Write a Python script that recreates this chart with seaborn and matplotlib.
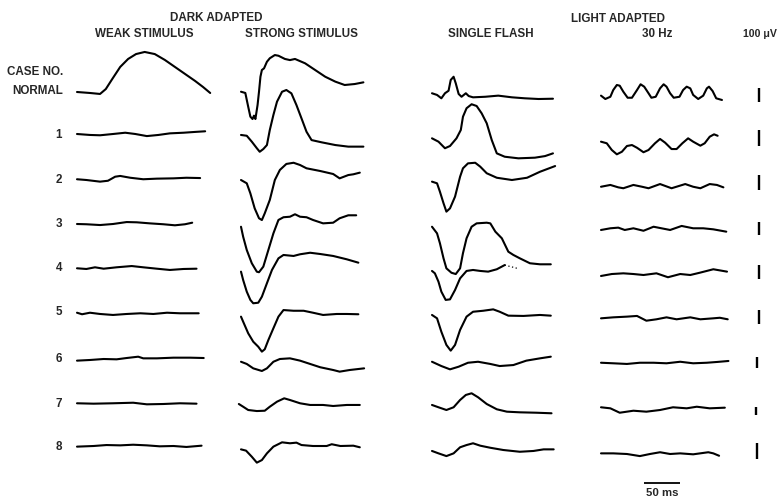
import matplotlib
matplotlib.use("Agg")
import matplotlib.pyplot as plt
import pandas as pd
import seaborn as sns

# ---------------------------------------------------------------------------
# ERG recordings: each trace is a list of (time in ms, amplitude in µV) pairs
# ---------------------------------------------------------------------------
row_labels = ["NORMAL", "1", "2", "3", "4", "5", "6", "7", "8"]

weak_stimulus = [
    [(0, 0), (18, -7), (32, -14), (40, 21), (49, 93), (60, 179), (71, 236), (82, 271),
     (94, 286), (108, 271), (122, 229), (136, 179), (150, 129), (164, 79), (175, 36), (185, -7)],
    [(0, 0), (18, -6), (32, -8), (50, 0), (67, 8), (81, 0), (97, -13), (113, -6),
     (129, 4), (148, 8), (164, 13), (178, 17)],
    [(0, 5), (13, 0), (32, -11), (43, -5), (53, 22), (60, 27), (74, 15), (92, 5),
     (111, 9), (134, 11), (152, 15), (171, 13)],
    [(0, 0), (13, -2), (32, -8), (50, 0), (69, 15), (83, 13), (101, 5), (120, -2),
     (136, -10), (150, -2), (160, 10)],
    [(0, -2), (13, -7), (25, 5), (37, -5), (55, 5), (76, 14), (92, 5), (111, -5),
     (129, -14), (148, -7), (166, -5)],
    [(0, 2), (7, -9), (18, 2), (32, -7), (50, -14), (69, -7), (88, -2), (106, -7),
     (125, 2), (143, -2), (169, -2)],
    [(0, -15), (18, -9), (37, 0), (55, -3), (69, 9), (85, 21), (92, 6), (111, 6),
     (134, 12), (157, 12), (176, 9)],
    [(0, 9), (23, 4), (50, 9), (78, 16), (97, -4), (120, 0), (143, 9), (166, 4)],
    [(0, -4), (23, 0), (41, 6), (60, 4), (78, 8), (97, 4), (115, -2), (134, 0),
     (152, -6), (173, 2)],
]

strong_stimulus = [
    [(0, 2), (6, -7), (10, -105), (13, -176), (16, -193), (18, -169), (20, -193), (23, -93),
     (25, 2), (27, 109), (29, 157), (32, 169), (36, 216), (40, 241), (47, 264), (52, 259),
     (61, 236), (68, 228), (75, 236), (89, 205), (103, 157), (117, 109), (131, 74),
     (144, 50), (158, 57), (170, 69)],
    [(0, -6), (8, -11), (15, -48), (22, -89), (26, -111), (31, -94), (36, -69), (40, 25),
     (45, 119), (50, 202), (57, 264), (63, 275), (70, 254), (77, 181), (84, 98), (91, 14),
     (98, -38), (112, -52), (131, -69), (149, -79), (170, -79)],
    [(0, 0), (8, -22), (13, -89), (19, -189), (25, -255), (29, -267), (33, -222), (40, -133),
     (47, 0), (54, 67), (63, 107), (73, 115), (82, 100), (91, 78), (110, 60), (128, 40),
     (137, 11), (149, 33), (156, 38), (165, 49)],
    [(0, -21), (3, -98), (8, -200), (15, -302), (22, -367), (25, -371), (31, -328),
     (38, -200), (45, -72), (52, 31), (59, 52), (68, 56), (75, 75), (82, 56), (91, 52),
     (100, 31), (114, 5), (128, 10), (137, 44), (149, 67), (160, 67)],
    [(0, -26), (3, -86), (8, -169), (13, -228), (17, -252), (24, -248), (29, -205),
     (36, -109), (43, -14), (52, 69), (59, 93), (73, 86), (82, 98), (96, 109), (110, 100),
     (128, 86), (147, 62), (163, 38)],
    [(0, -26), (3, -62), (10, -145), (17, -205), (24, -241), (29, -276), (33, -259),
     (38, -193), (45, -109), (52, -26), (59, 21), (73, 16), (87, 16), (100, 2), (114, -14),
     (133, -7), (147, -7), (163, -9)],
    [(0, -25), (8, -45), (17, -85), (29, -109), (36, -85), (45, -25), (54, 0), (68, 6),
     (82, -15), (96, -45), (110, -75), (128, -100), (137, -115), (151, -100), (171, -85)],
    [(-3, 0), (3, -34), (10, -75), (22, -88), (33, -84), (40, -34), (50, 29), (60, 71),
     (68, 50), (82, 9), (96, -12), (114, -12), (128, -25), (147, -12), (165, -12)],
    [(0, -21), (7, -29), (15, -67), (22, -104), (29, -88), (36, -46), (45, -4), (57, 23),
     (68, 17), (77, 21), (84, 6), (100, 0), (119, 0), (126, 11), (138, 0), (156, 2),
     (165, -8)],
]

single_flash = [
    [(0, -9), (7, -21), (13, -45), (18, -9), (23, 9), (26, 86), (30, 109), (33, 62),
     (37, -14), (41, -34), (47, -9), (51, -29), (57, -38), (74, -34), (92, -26),
     (111, -38), (129, -45), (148, -50), (168, -48)],
    [(0, -27), (9, -48), (18, -89), (25, -75), (34, -27), (40, 25), (43, 108), (48, 161),
     (55, 186), (62, 175), (69, 129), (76, 67), (83, -38), (90, -121), (101, -142),
     (120, -152), (143, -148), (157, -138), (168, -121)],
    [(0, -11), (7, -22), (11, -78), (16, -155), (20, -211), (25, -189), (32, -111),
     (39, 22), (43, 78), (50, 111), (60, 115), (67, 89), (76, 45), (90, 15), (111, 0),
     (132, 15), (150, 55), (171, 93)],
    [(0, -21), (7, -72), (11, -148), (16, -264), (20, -341), (27, -375), (33, -385),
     (39, -341), (43, -225), (48, -110), (55, -21), (62, 5), (76, 10), (81, 5), (88, -59),
     (97, -110), (106, -213), (113, -238), (122, -264), (136, -302), (150, -310),
     (165, -310)],
    [(0, -21), (4, -38), (9, -98), (13, -169), (19, -228), (25, -224), (32, -157),
     (39, -74), (48, -21), (57, -14), (67, -21), (78, -26), (90, -9), (101, 21)],
    [(0, -14), (7, -38), (13, -134), (20, -228), (26, -269), (32, -228), (39, -121),
     (48, -26), (57, 9), (71, 16), (85, 26), (94, 9), (106, -19), (127, -21), (150, -14),
     (165, -19)],
    [(0, -25), (13, -64), (25, -94), (37, -70), (50, -34), (64, -25), (81, -45), (94, -64),
     (113, -55), (131, -15), (150, 6), (165, 21)],
    [(0, -12), (9, -41), (20, -75), (30, -41), (39, 50), (47, 113), (55, 134), (64, 84),
     (76, 0), (90, -66), (104, -96), (122, -104), (145, -109), (166, -116)],
    [(0, -31), (9, -46), (20, -63), (30, -46), (39, -8), (48, 6), (57, 17), (67, 2),
     (81, -11), (99, -25), (122, -36), (141, -31), (155, -21), (169, -21)],
]

# faint, broken-off tail of the case 4 single-flash record
single_flash_case4_tail = [(101, 21), (106, 14), (113, 5), (118, -2)]

flicker_30hz = [
    [(0, -26), (6, -50), (13, -34), (17, 14), (22, 50), (26, 45), (31, 2), (37, -41),
     (43, -41), (50, 14), (55, 55), (60, 38), (66, -9), (70, -41), (76, -34), (82, 26),
     (87, 55), (91, 38), (96, -9), (101, -41), (109, -34), (114, 14), (119, 38), (124, 26),
     (128, -21), (135, -50), (142, -26), (147, 26), (150, 38), (155, 7), (160, -45),
     (168, -57)],
    [(0, -48), (8, -58), (15, -100), (22, -127), (29, -111), (36, -75), (43, -69),
     (50, -86), (59, -114), (66, -100), (75, -58), (82, -31), (89, -54), (98, -94),
     (105, -94), (113, -58), (121, -27), (128, -48), (138, -73), (144, -58), (151, -17),
     (157, -2), (162, -11)],
    [(0, -45), (13, -33), (24, -49), (31, -55), (45, -33), (57, -45), (66, -55), (82, -27),
     (98, -55), (117, -27), (128, -45), (138, -55), (151, -27), (161, -33), (170, -49)],
    [(0, -46), (13, -33), (24, -28), (33, -46), (45, -33), (59, -52), (73, -21), (84, -33),
     (96, -46), (112, -15), (128, -33), (142, -33), (156, -41), (174, -59)],
    [(0, -57), (15, -43), (31, -38), (45, -43), (59, -50), (77, -38), (93, -66), (110, -43),
     (124, -50), (137, -34), (156, -9), (175, -26)],
    [(0, -38), (17, -31), (36, -26), (50, -21), (63, -55), (77, -45), (91, -31), (105, -45),
     (124, -31), (138, -45), (156, -38), (165, -34), (176, -45)],
    [(0, -34), (17, -39), (36, -45), (54, -34), (73, -34), (91, -39), (110, -25), (128, -39),
     (147, -34), (161, -27), (177, -18)],
    [(0, -41), (13, -54), (26, -109), (45, -84), (63, -96), (82, -75), (100, -41),
     (119, -54), (133, -34), (151, -54), (172, -46)],
    [(0, -46), (17, -46), (36, -50), (54, -63), (68, -50), (82, -39), (96, -50), (110, -46),
     (128, -52), (149, -39), (156, -46), (164, -61)],
]

# ---------------------------------------------------------------------------
# Page layout (pixels on a 778 x 499 canvas)
# ---------------------------------------------------------------------------
W, H = 778, 499
PX_PER_MS = 0.72
column_x0 = {"weak": 77, "strong": 241, "flash": 432, "flicker": 601}
row_y = [92, 134, 180, 224, 268, 313, 359, 404, 446]
# recording gain of each row: height in px of the 100 µV calibration bar
cal_bar_px = [14, 16, 15, 13, 14, 14, 11, 8, 16]
cal_bar_x = [759, 759, 759, 759, 759, 759, 757, 756, 757]
cal_bar_mid = [95, 138, 182.5, 228.5, 272, 317, 362.5, 411, 451]

columns = {
    "weak": weak_stimulus,
    "strong": strong_stimulus,
    "flash": single_flash,
    "flicker": flicker_30hz,
}


def to_page(col, row, pts):
    x0 = column_x0[col]
    k = cal_bar_px[row] / 100.0
    return [(x0 + t * PX_PER_MS, row_y[row] - v * k) for t, v in pts]


records = []
for col, traces in columns.items():
    for r, pts in enumerate(traces):
        for x, y in to_page(col, r, pts):
            records.append({"trace": f"{col}-{r}", "x": x, "y": y})
df = pd.DataFrame(records)

tail = pd.DataFrame(to_page("flash", 4, single_flash_case4_tail), columns=["x", "y"])

sns.set_style("white")
plt.rcParams["font.family"] = ["Liberation Sans", "DejaVu Sans"]

fig = plt.figure(figsize=(W / 100, H / 100), dpi=100)
ax = fig.add_axes([0, 0, 1, 1])

sns.lineplot(data=df, x="x", y="y", units="trace", estimator=None, sort=False,
             color="black", linewidth=1.5, ax=ax, legend=False)
sns.lineplot(data=tail, x="x", y="y", estimator=None, sort=False, color="black",
             linewidth=0.9, linestyle=(0, (1, 2)), ax=ax, legend=False)

# 100 µV calibration bars
for xb, ym, h in zip(cal_bar_x, cal_bar_mid, cal_bar_px):
    ax.vlines(xb, ym - h / 2, ym + h / 2, color="black", linewidth=1.7)

# 50 ms time bar
bar_x0, bar_y = 644, 482.7
ax.hlines(bar_y, bar_x0, bar_x0 + 50 * PX_PER_MS, color="black", linewidth=1.3)
ax.text(bar_x0 + 25 * PX_PER_MS, 492.5, "50 ms", ha="center", va="center",
        fontsize=8.2, fontweight="bold")

# headings
hd = dict(ha="center", va="center", fontsize=8.4, fontweight="bold")
ax.text(216.5, 17.5, "DARK ADAPTED", **hd)
ax.text(144, 33.5, "WEAK STIMULUS", **hd)
ax.text(301.5, 34, "STRONG STIMULUS", **hd)
ax.text(618, 19, "LIGHT ADAPTED", **hd)
ax.text(491, 34, "SINGLE FLASH", **hd)
ax.text(657, 34, "30 Hz", **hd)
ax.text(777, 34, "100 μV", ha="right", va="center", fontsize=7.6, fontweight="bold")

# case labels
ax.text(63, 71.5, "CASE NO.", ha="right", va="center", fontsize=8.4, fontweight="bold")
label_y = [90.7, 135, 180, 224, 268.3, 311.7, 359, 404, 446.7]
for lab, y in zip(row_labels, label_y):
    ax.text(63 if lab == "NORMAL" else 62, y, lab, ha="right", va="center",
            fontsize=8.4, fontweight="bold")

ax.set_xlim(0, W)
ax.set_ylim(H, 0)
ax.axis("off")

fig.savefig("out.png", dpi=100, facecolor="white")
